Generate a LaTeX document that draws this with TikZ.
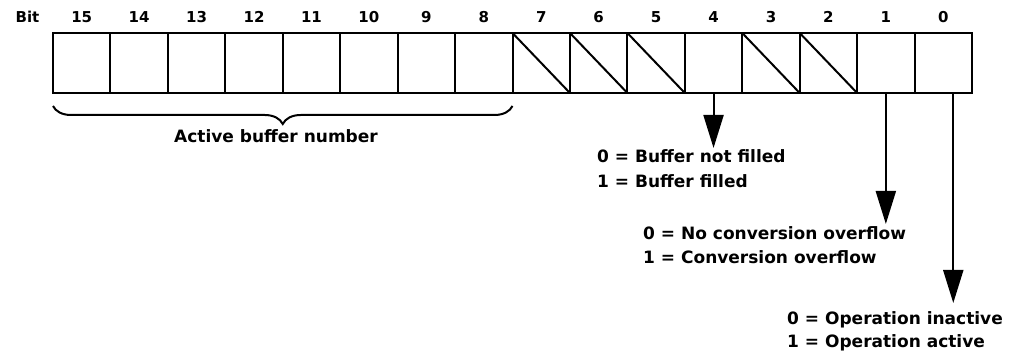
\documentclass[tikz,border=0pt]{standalone}
\usepackage{fontspec}
\setmainfont{DejaVu Sans}
\usetikzlibrary{arrows.meta,decorations.pathreplacing,calc}
\begin{document}
\begin{tikzpicture}[x=1pt,y=-1pt,
  cell/.style={draw,line width=2pt,minimum width=57.44pt,minimum height=60pt,inner sep=0pt,outer sep=0pt},
  hdr/.style={font=\fontsize{15}{18}\selectfont\bfseries,anchor=base,inner sep=0pt},
  lbl/.style={font=\fontsize{17}{20}\selectfont\bfseries,anchor=base west,inner sep=0pt},
  pointer/.style={line width=2pt,-{Triangle[length=33pt,width=20pt]}},
  hatch/.style={line width=2pt}]
\useasboundingbox (0,0) rectangle (1013,352);
\foreach \b in {0,...,15}{
  \pgfmathsetmacro\cx{53+(15-\b)*57.4375+28.72}
  \node[cell] (c\b) at (\cx,63) {};
  \node[hdr] (h\b) at (\cx,23) {\b};
}
\node[hdr] (bit) at (27.5,23) {Bit};
\foreach \b in {7,6,5,3,2}
  \draw[hatch] (c\b.north west) -- (c\b.south east);
% brace
\coordinate (bl) at ($(c15.south west)+(0,13)$);
\coordinate (br) at ($(c8.south east)+(0,13)$);
\draw[line width=2pt,decorate,decoration={brace,amplitude=18pt,mirror}] (bl) -- (br);
\node[lbl,anchor=base] (abn) at (276,143) {Active buffer number};
% pointers
\coordinate (t4) at ($(c4.south)+(0,55)$);
\coordinate (s0) at ($(c0.south)+(10,0)$);
\coordinate (t1) at ($(c1.south)+(0,131)$);
\coordinate (t0) at ($(s0)+(0,210)$);
\draw[pointer] (c4.south) -- (t4);
\draw[pointer] (c1.south) -- (t1);
\draw[pointer] (s0) -- (t0);
% labels
\node[lbl] (l4a) at (597,163) {0 = Buffer not filled};
\node[lbl] (l4b) at (597,188) {1 = Buffer filled};
\node[lbl] (l1a) at (643,240) {0 = No conversion overflow};
\node[lbl] (l1b) at (643,264) {1 = Conversion overflow};
\node[lbl] (l0a) at (787,325) {0 = Operation inactive};
\node[lbl] (l0b) at (787,348) {1 = Operation active};
\end{tikzpicture}
\end{document}
